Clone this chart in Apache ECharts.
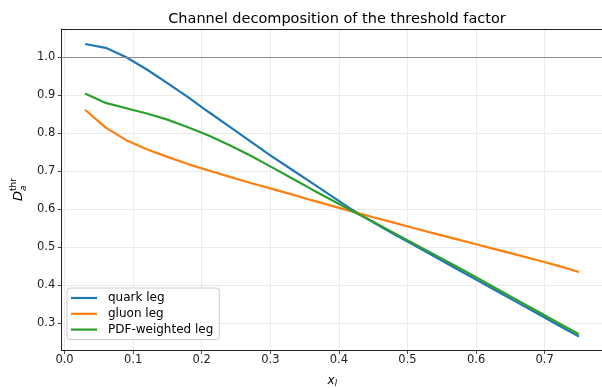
<!DOCTYPE html>
<html>
<head>
<meta charset="utf-8">
<script src="https://cdn.jsdelivr.net/npm/echarts@6/dist/echarts.min.js"></script>
<style>html,body{margin:0;padding:0;background:#fff;}#c{width:602px;height:388px;}</style>
</head>
<body>
<div id="c"></div>
<script>
var xValues = [0.03,0.06,0.09,0.12,0.15,0.18,0.21,0.24,0.27,0.30,0.33,0.36,0.39,0.42,0.45,0.48,0.51,0.54,0.57,0.60,0.63,0.66,0.69,0.72,0.75];
var quarkLeg = [1.035,1.025,1.000,0.968,0.932,0.895,0.856,0.818,0.780,0.742,0.706,0.670,0.634,0.598,0.566,0.535,0.505,0.475,0.445,0.415,0.385,0.355,0.325,0.295,0.265];
var gluonLeg = [0.862,0.815,0.782,0.758,0.738,0.719,0.702,0.686,0.670,0.655,0.640,0.624,0.609,0.594,0.579,0.565,0.550,0.536,0.522,0.508,0.494,0.480,0.466,0.451,0.435];
var pdfWeightedLeg = [0.905,0.880,0.866,0.852,0.836,0.816,0.794,0.769,0.742,0.713,0.683,0.653,0.624,0.595,0.567,0.538,0.509,0.480,0.451,0.421,0.391,0.361,0.331,0.301,0.271];
var xTicks = [0.0,0.1,0.2,0.3,0.4,0.5,0.6,0.7];
var yTicks = [0.3,0.4,0.5,0.6,0.7,0.8,0.9,1.0];
var referenceLevel = 1.0;
var seriesNames = ['quark leg','gluon leg','PDF-weighted leg'];
var seriesColors = ['#1f77b4','#ff7f0e','#2ca02c'];
var seriesData = [quarkLeg, gluonLeg, pdfWeightedLeg];

function pairs(ys){ return xValues.map(function(x,i){ return [x, ys[i]]; }); }

var FONT = 'DejaVu Sans';
var chart = echarts.init(document.getElementById('c'), null, {renderer:'canvas'});

var series = seriesData.map(function(d,i){
  var s = {
    name: seriesNames[i], type:'line', data: pairs(d), symbol:'none', smooth:false,
    lineStyle:{color:seriesColors[i], width:2.2}, itemStyle:{color:seriesColors[i]},
    z: 3 + i, animation:false
  };
  if(i===0){
    s.markLine = {silent:true, symbol:['none','none'], label:{show:false},
      lineStyle:{color:'#8a8a8a', width:1.2, type:'solid'},
      data:[{yAxis: referenceLevel}], animation:false};
  }
  return s;
});

var XMIN = -0.0047, XMAX = 0.7856;

chart.setOption({
  animation:false,
  backgroundColor:'#fff',
  title:{text:'Channel decomposition of the threshold factor', left:332, textAlign:'center', top:7,
    textStyle:{fontFamily:FONT, fontSize:14.5, fontWeight:'normal', color:'#000'}},
  grid:{left:61.3, top:29, width:542.1, height:321.5, show:false, containLabel:false, outerBoundsMode:'none'},
  legend:{orient:'vertical', left:67, top:288, padding:[4,6,4,4], itemGap:3.8, itemWidth:26, itemHeight:14,
    backgroundColor:'rgba(255,255,255,0.8)', borderColor:'#cccccc', borderWidth:1, borderRadius:3,
    textStyle:{fontFamily:FONT, fontSize:12, color:'#000', padding:[0,0,0,6]},
    data: seriesNames.map(function(n){ return {name:n, icon:'path://M0,0L26,0L26,2.2L0,2.2Z'}; })},
  xAxis:[{type:'value', min:XMIN, max:XMAX, position:'bottom',
    name:'{i|x}{s|l}', nameLocation:'middle', nameGap:23,
    nameTextStyle:{rich:{i:{fontFamily:FONT, fontStyle:'italic', fontSize:12, color:'#000'},
      s:{fontFamily:FONT, fontStyle:'italic', fontSize:8.5, color:'#000', padding:[6,0,0,0]}}},
    axisLine:{show:true, onZero:false, lineStyle:{color:'#222', width:1}},
    axisTick:{show:true, length:3.5, customValues:xTicks, lineStyle:{color:'#222', width:0.8}},
    axisLabel:{customValues:xTicks, margin:4, fontFamily:FONT, fontSize:11.5, color:'#222',
      formatter:function(v){ return v.toFixed(1); }},
    splitLine:{show:true, lineStyle:{color:'#e6e6e6', width:0.8}}},
   {type:'value', min:XMIN, max:XMAX, position:'top',
    axisLine:{show:true, onZero:false, lineStyle:{color:'#222', width:1}},
    axisTick:{show:false}, axisLabel:{show:false}, splitLine:{show:false}}],
  yAxis:{type:'value', min:0.2284, max:1.0745,
    axisLine:{show:true, onZero:false, lineStyle:{color:'#222', width:1}},
    axisTick:{show:true, length:3.5, customValues:yTicks, lineStyle:{color:'#222', width:0.8}},
    axisLabel:{customValues:yTicks, margin:6, fontFamily:FONT, fontSize:11.5, color:'#222',
      formatter:function(v){ return v.toFixed(1); }},
    splitLine:{show:true, lineStyle:{color:'#e6e6e6', width:0.8}}},
  graphic:[{type:'group', x:19, y:201, rotation:Math.PI/2, children:[
    {type:'text', x:0, y:0, style:{text:'D', font:'italic 13px "DejaVu Sans"', fill:'#000', align:'left', verticalAlign:'middle'}},
    {type:'text', x:10, y:-1, style:{text:'thr', font:'9px "DejaVu Sans"', fill:'#000', align:'left', verticalAlign:'bottom'}},
    {type:'text', x:10, y:0, style:{text:'a', font:'italic 9px "DejaVu Sans"', fill:'#000', align:'left', verticalAlign:'top'}}
  ]}],
  series: series
});
</script>
</body>
</html>
